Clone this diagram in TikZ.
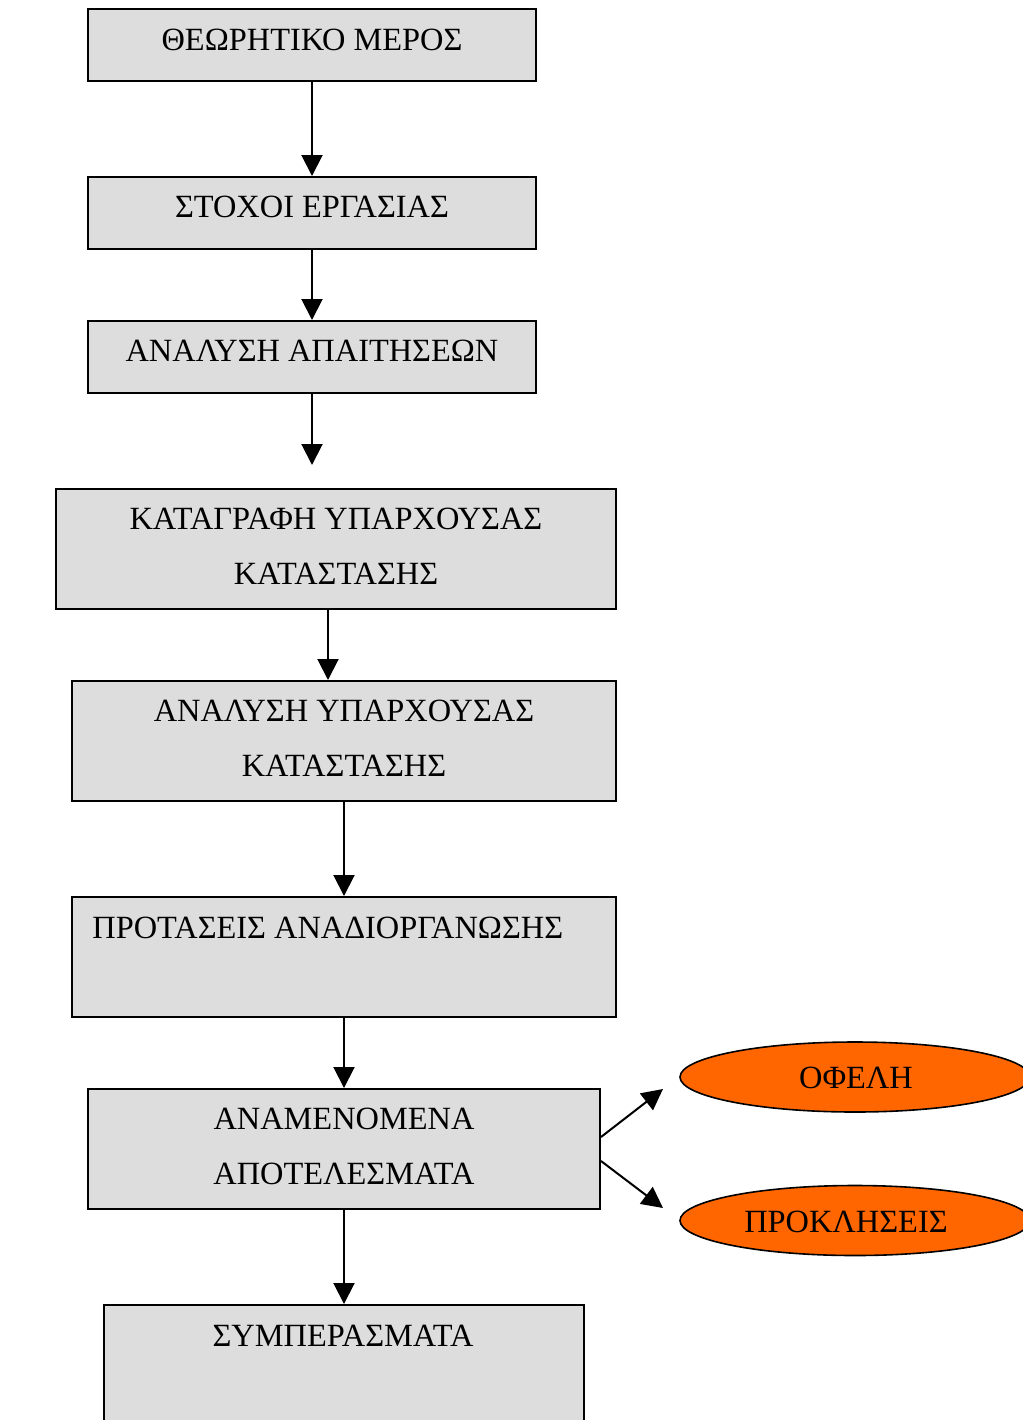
\documentclass[tikz,border=0pt]{standalone}
\usepackage{fontspec}
\setmainfont{Liberation Serif}
\usetikzlibrary{arrows.meta,shapes.geometric}
\definecolor{boxgray}{HTML}{DDDDDD}
\definecolor{orng}{HTML}{FF6600}
\tikzset{
  stepbox/.style={draw=black, line width=1pt, fill=boxgray, rectangle, inner sep=0pt},
  oval/.style={draw=black, line width=0.8pt, fill=orng, ellipse, inner sep=0pt, minimum width=175pt, minimum height=35pt},
  txt/.style={anchor=base, inner sep=0pt, font=\fontsize{16.2}{20}\selectfont},
  arr/.style={line width=1pt, -{Triangle[length=10.5pt,width=10.5pt]}}
}
\begin{document}
\begin{tikzpicture}[x=0.5pt,y=-0.5pt]
\useasboundingbox (0,0) rectangle (1023,1420);
\clip (0,0) rectangle (1023,1420);
% boxes
\node[stepbox, minimum width=224pt, minimum height=36pt] (b1) at (312,45) {};
\node[stepbox, minimum width=224pt, minimum height=36pt] (b2) at (312,213) {};
\node[stepbox, minimum width=224pt, minimum height=36pt] (b3) at (312,357) {};
\node[stepbox, minimum width=280pt, minimum height=60pt] (b4) at (336,549) {};
\node[stepbox, minimum width=272pt, minimum height=60pt] (b5) at (344,741) {};
\node[stepbox, minimum width=272pt, minimum height=60pt] (b6) at (344,957) {};
\node[stepbox, minimum width=256pt, minimum height=60pt] (b7) at (344,1149) {};
\node[stepbox, minimum width=240pt, minimum height=60pt] (b8) at (344,1365) {};
% ellipses
\node[oval] (e1) at (855,1077) {};
\node[oval] (e2) at (855,1220.5) {};
% texts
\node[txt] (t1) at (312,50) {ΘΕΩΡΗΤΙΚΟ ΜΕΡΟΣ};
\node[txt] (t2) at (312,217) {ΣΤΟΧΟΙ ΕΡΓΑΣΙΑΣ};
\node[txt] (t3) at (312,361) {ΑΝΑΛΥΣΗ ΑΠΑΙΤΗΣΕΩΝ};
\node[txt] (t4a) at (336,529) {ΚΑΤΑΓΡΑΦΗ ΥΠΑΡΧΟΥΣΑΣ};
\node[txt] (t4b) at (336,584) {ΚΑΤΑΣΤΑΣΗΣ};
\node[txt] (t5a) at (344,721) {ΑΝΑΛΥΣΗ ΥΠΑΡΧΟΥΣΑΣ};
\node[txt] (t5b) at (344,776) {ΚΑΤΑΣΤΑΣΗΣ};
\node[txt, anchor=base west] (t6) at (92,938) {ΠΡΟΤΑΣΕΙΣ ΑΝΑΔΙΟΡΓΑΝΩΣΗΣ};
\node[txt] (t7a) at (344,1129) {ΑΝΑΜΕΝΟΜΕΝΑ};
\node[txt] (t7b) at (344,1184) {ΑΠΟΤΕΛΕΣΜΑΤΑ};
\node[txt] (te1) at (856,1088) {ΟΦΕΛΗ};
\node[txt] (te2) at (846,1232) {ΠΡΟΚΛΗΣΕΙΣ};
\node[txt] (t8) at (343,1346) {ΣΥΜΠΕΡΑΣΜΑΤΑ};
% free arrow ends
\coordinate (c3) at (312,465);
\coordinate (ce1) at (663,1089);
\coordinate (ce2) at (663,1208);
% connectors
\draw[arr] (b1.south) -- (b2.north);
\draw[arr] (b2.south) -- (b3.north);
\draw[arr] (b3.south) -- (c3);
\draw[arr] ([xshift=-4pt]b4.south) -- ([xshift=-4pt]b4.south |- b5.north);
\draw[arr] (b5.south) -- (b6.north);
\draw[arr] (b6.south) -- (b7.north);
\draw[arr] (b7.south) -- (b8.north);
\draw[arr] ([yshift=6pt]b7.east) -- (ce1);
\draw[arr] ([yshift=-6pt]b7.east) -- (ce2);
\end{tikzpicture}
\end{document}
